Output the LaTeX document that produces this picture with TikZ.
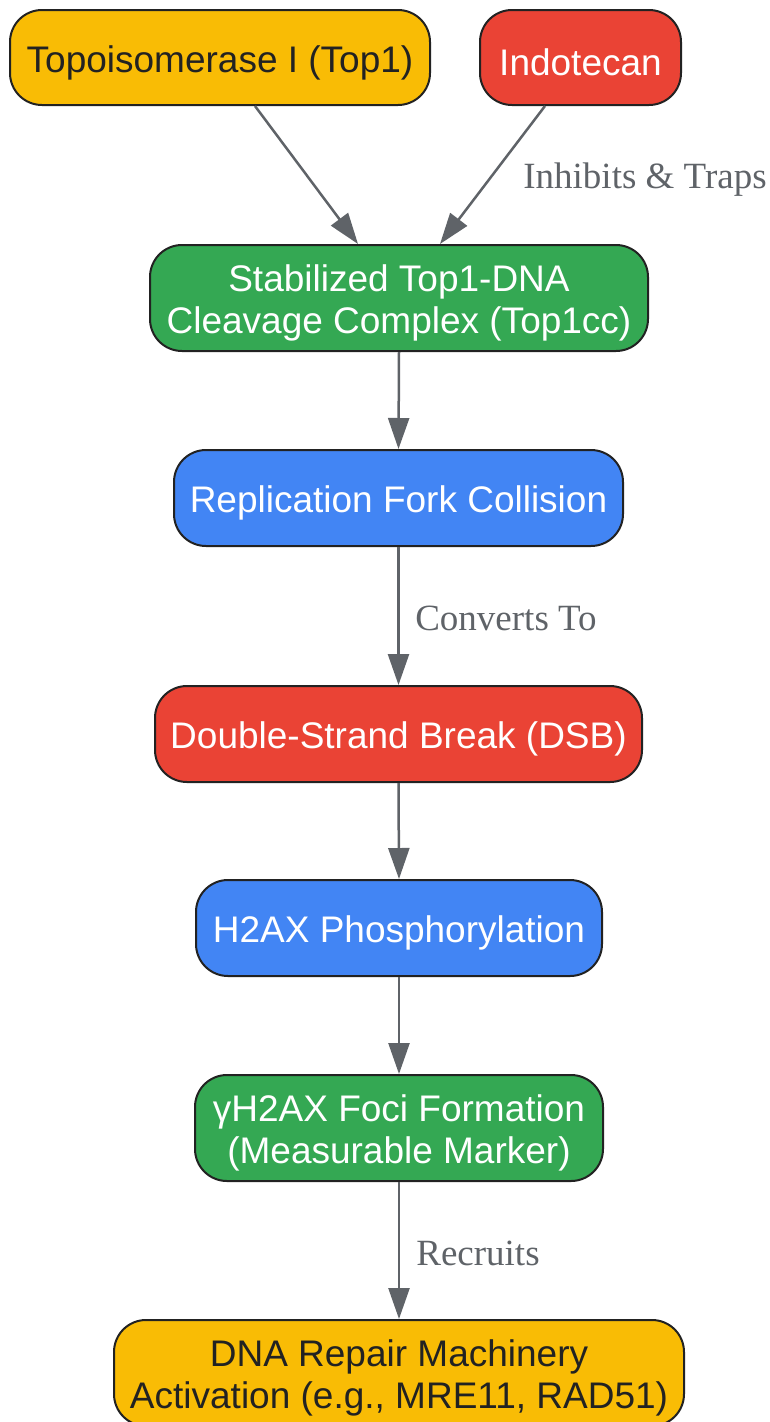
\documentclass[tikz,border=0pt]{standalone}
\usepackage{fontspec}
\setmainfont{Liberation Sans}
\newfontfamily\labfont{Liberation Serif}
\usetikzlibrary{arrows.meta,calc}
\definecolor{cyellow}{HTML}{F9BC05}
\definecolor{cred}{HTML}{EA4335}
\definecolor{cgreen}{HTML}{34A853}
\definecolor{cblue}{HTML}{4285F4}
\definecolor{cedge}{HTML}{5F6368}
\definecolor{cdark}{HTML}{222222}
\tikzset{
  box/.style={draw=cdark, line width=2pt, rounded corners=32pt, inner sep=0pt},
  btext/.style={align=center, font=\fontsize{37}{42}\selectfont, inner sep=0pt},
  light/.style={btext, text=cdark},
  darktext/.style={btext, text=white},
  conn/.style={draw=cedge, line width=2.5pt, -{Triangle[width=21pt,length=31pt]}},
  lab/.style={font=\labfont\fontsize{37}{42}\selectfont, text=cedge}
}
\begin{document}
\begin{tikzpicture}[x=1pt,y=1pt]
\useasboundingbox (0,0) rectangle (769,-1422);
\node[box, fill=cyellow, minimum width=420pt, minimum height=95pt] (top1) at (220,-57.5) {};
\node[box, fill=cred, minimum width=201pt, minimum height=95pt] (indo) at (580.5,-57.5) {};
\node[box, fill=cgreen, minimum width=498pt, minimum height=106pt] (cc) at (399,-298) {};
\node[box, fill=cblue, minimum width=449pt, minimum height=96pt] (rfc) at (398.5,-498) {};
\node[box, fill=cred, minimum width=487pt, minimum height=96pt] (dsb) at (398.5,-734) {};
\node[box, fill=cblue, minimum width=406pt, minimum height=96pt] (h2ax) at (399,-928) {};
\node[box, fill=cgreen, minimum width=408pt, minimum height=106pt] (gh) at (399,-1128) {};
\node[box, fill=cyellow, minimum width=570pt, minimum height=106pt] (rep) at (399,-1373) {};
\node[light] (top1t) at ($(top1)+(0,-5)$) {Topoisomerase I (Top1)};
\node[darktext] (indot) at ($(indo)+(0,-5)$) {Indotecan};
\node[darktext] (cct) at ($(cc)+(0,-5)$) {Stabilized Top1-DNA\\Cleavage Complex (Top1cc)};
\node[darktext] (rfct) at ($(rfc)+(0,-5)$) {Replication Fork Collision};
\node[darktext] (dsbt) at ($(dsb)+(0,-5)$) {Double-Strand Break (DSB)};
\node[darktext] (h2axt) at ($(h2ax)+(0,-5)$) {H2AX Phosphorylation};
\node[darktext] (ght) at ($(gh)+(0,-5)$) {γH2AX Foci Formation\\(Measurable Marker)};
\node[light] (rept) at ($(rep)+(0,-5)$) {DNA Repair Machinery\\Activation (e.g., MRE11, RAD51)};
\coordinate (a1) at ($(top1.south)+(35,0)$);
\coordinate (a2) at ($(cc.north)+(-41,0)$);
\coordinate (b1) at ($(indo.south)+(-35.5,0)$);
\coordinate (b2) at ($(cc.north)+(41,0)$);
\draw[conn] (a1) -- (a2);
\draw[conn] (b1) -- (b2);
\draw[conn] (cc.south) -- (rfc.north);
\draw[conn] (rfc.south) -- (dsb.north);
\draw[conn] (dsb.south) -- (h2ax.north);
\draw[conn] (h2ax.south) -- (gh.north);
\draw[conn] (gh.south) -- (rep.north);
\node[lab] (l1) at (645,-180) {Inhibits \& Traps};
\node[lab] (l2) at (506,-618) {Converts To};
\node[lab] (l3) at (478,-1253) {Recruits};
\end{tikzpicture}
\end{document}
